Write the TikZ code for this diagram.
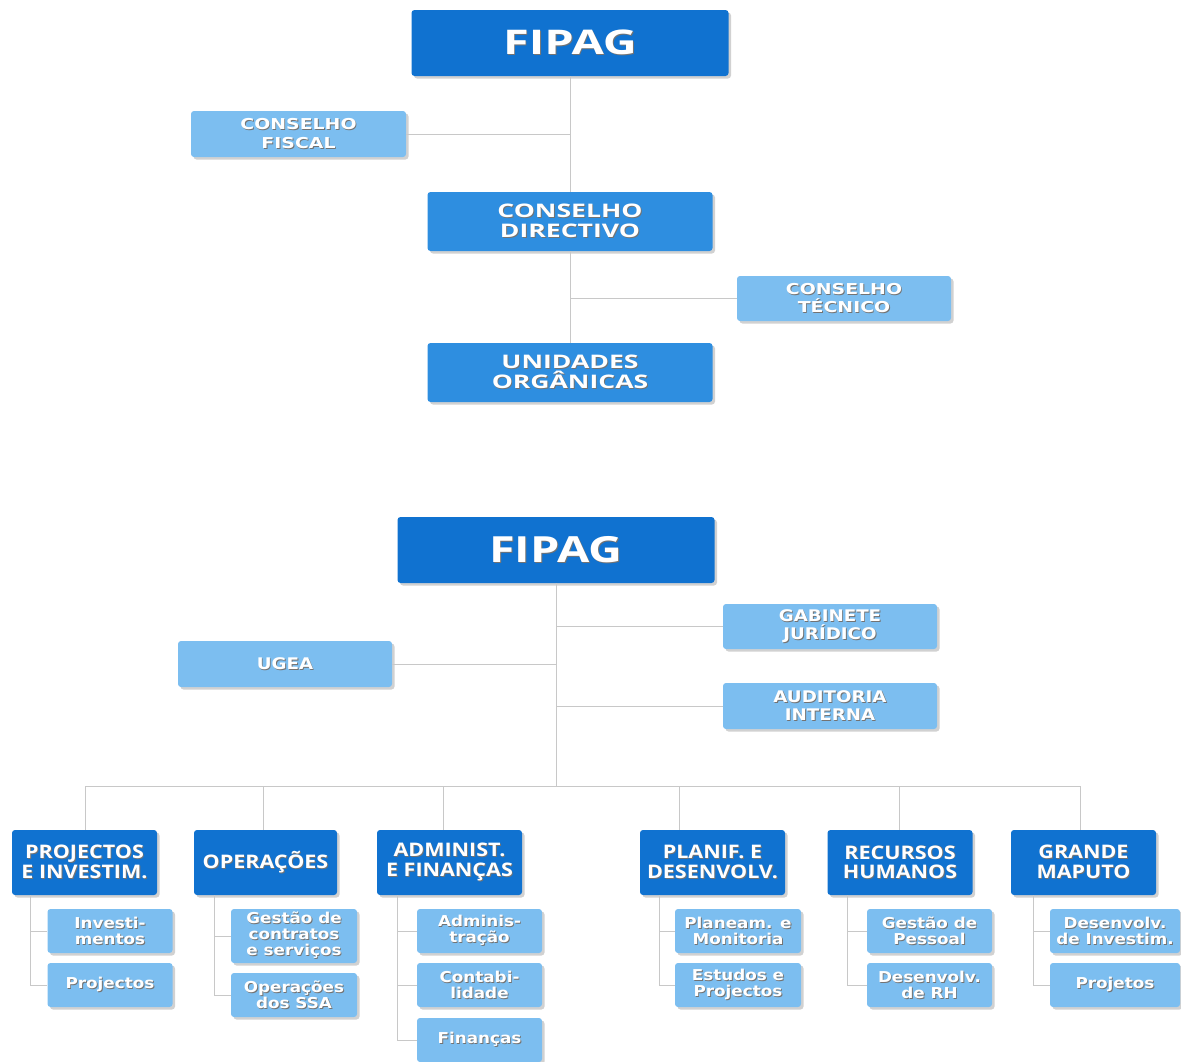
\documentclass[tikz,border=0pt]{standalone}
\usepackage{fontspec}
\usetikzlibrary{shadows}
\newfontfamily\fTopBig{Open Sans}[FakeStretch=1.38]
\newfontfamily\fTopMid{Open Sans}[FakeStretch=1.42]
\newfontfamily\fTopLight{DejaVu Sans}[FakeStretch=1.26]
\newfontfamily\fBotBig{Open Sans}[FakeStretch=1.3]
\newfontfamily\fDept{Open Sans}[FakeStretch=1.15]
\newfontfamily\fBotLight{DejaVu Sans}[FakeStretch=1.14]
\newfontfamily\fSub{DejaVu Sans}[FakeStretch=1.12]
\definecolor{cDark}{RGB}{16,114,208}
\definecolor{cMid}{RGB}{46,142,224}
\definecolor{cLight}{RGB}{124,190,240}
\definecolor{cLine}{RGB}{200,200,200}
\newcommand\sh[1]{\leavevmode\rlap{\kern0.9pt\raisebox{-0.9pt}{\color{black!55}#1}}#1}
\tikzset{
  box/.style={rounded corners=3pt, inner sep=0pt, align=center, text=white,
    drop shadow={shadow xshift=2.5pt, shadow yshift=-2.5pt, opacity=0.18, fill=black}},
  darkbox/.style={box, fill=cDark},
  midbox/.style={box, fill=cMid},
  lightbox/.style={box, fill=cLight},
  ftopbig/.style={font=\fTopBig\bfseries\fontsize{34}{36}\selectfont},
  ftopmid/.style={font=\fTopMid\bfseries\fontsize{18.7}{20}\selectfont},
  ftoplight/.style={font=\fTopLight\bfseries\fontsize{15}{18.5}\selectfont},
  fbotbig/.style={font=\fBotBig\bfseries\fontsize{36}{38}\selectfont},
  fdept/.style={font=\fDept\bfseries\fontsize{18.7}{19.5}\selectfont},
  fbotlight/.style={font=\fBotLight\bfseries\fontsize{16}{18.3}\selectfont},
  fsub/.style={font=\fSub\bfseries\fontsize{15}{16}\selectfont},
  conn/.style={draw=cLine, line width=1pt},
  deptbox/.style={darkbox, fdept, minimum width=145pt, minimum height=65pt},
  subbox/.style={lightbox, fsub, minimum width=125pt, minimum height=44pt},
}
\begin{document}
\begin{tikzpicture}[x=1pt,y=-1pt]
\useasboundingbox (0,0) rectangle (1181,1061);
% ---------------- top chart ----------------
\node[darkbox, ftopbig, minimum width=317pt, minimum height=66pt] (f1) at (570,43) {\sh{FIPAG}};
\node[lightbox, ftoplight, minimum width=215pt, minimum height=46pt] (cf) at (298.5,134) {\sh{CONSELHO}\\\sh{FISCAL}};
\node[midbox, ftopmid, minimum width=285pt, minimum height=59pt] (cd) at (570,221.5) {\sh{CONSELHO}\\\sh{DIRECTIVO}};
\node[lightbox, ftoplight, minimum width=214pt, minimum height=45pt] (ct) at (844,298.5) {\sh{CONSELHO}\\\sh{TÉCNICO}};
\node[midbox, ftopmid, minimum width=285pt, minimum height=59pt] (uo) at (570,372.5) {\sh{UNIDADES}\\\sh{ORGÂNICAS}};
\draw[conn] (f1.south) -- (cd.north);
\draw[conn] (cd.south) -- (uo.north);
\draw[conn] (cf.east) -- (cf.east -| f1.south);
\draw[conn] (ct.west) -- (ct.west -| cd.south);
% ---------------- bottom chart ----------------
\node[darkbox, fbotbig, minimum width=317pt, minimum height=66pt] (f2) at (556,550) {\sh{FIPAG}};
\node[lightbox, fbotlight, minimum width=214pt, minimum height=45pt] (gj) at (830,626.5) {\sh{GABINETE}\\\sh{JURÍDICO}};
\node[lightbox, fbotlight, minimum width=214pt, minimum height=46pt] (ug) at (285,664) {\sh{UGEA}};
\node[lightbox, fbotlight, minimum width=214pt, minimum height=46pt] (ai) at (830,706) {\sh{AUDITORIA}\\\sh{INTERNA}};
\coordinate (bus) at (556,786);
\coordinate (busL) at (85,786);
\coordinate (busR) at (1080,786);
\draw[conn] (f2.south) -- (bus);
\draw[conn] (gj.west) -- (gj.west -| f2.south);
\draw[conn] (ug.east) -- (ug.east -| f2.south);
\draw[conn] (ai.west) -- (ai.west -| f2.south);
\draw[conn] (busL) -- (busR);
% departments
\node[deptbox] (d1) at (84.5,862.5) {\sh{PROJECTOS}\\\sh{E INVESTIM.}};
\node[deptbox, minimum width=143pt] (d2) at (265.5,862.5) {\sh{OPERAÇÕES}};
\node[deptbox] (d3) at (449.5,862.5) {\sh{ADMINIST.}\\\sh{E FINANÇAS}};
\node[deptbox] (d4) at (712.5,862.5) {\sh{PLANIF. E}\\\sh{DESENVOLV.}};
\node[deptbox] (d5) at (900,862.5) {\sh{RECURSOS}\\\sh{HUMANOS}};
\node[deptbox] (d6) at (1083.5,862.5) {\sh{GRANDE}\\\sh{MAPUTO}};
\coordinate (t1) at (85,786);
\coordinate (t2) at (263,786);
\coordinate (t3) at (443.5,786);
\coordinate (t4) at (679.5,786);
\coordinate (t5) at (899,786);
\coordinate (t6) at (1080,786);
\foreach \i in {1,...,6}{\draw[conn] (t\i) -- (t\i |- d\i.north);}
% sub units
\node[subbox] (s11) at (110,931) {\sh{Investi-}\\\sh{mentos}};
\node[subbox] (s12) at (110,985) {\sh{Projectos}};
\node[subbox, minimum width=126pt, minimum height=54pt] (s21) at (294,936) {\sh{Gestão de}\\\sh{contratos}\\\sh{e serviços}};
\node[subbox, minimum width=126pt] (s22) at (294,995) {\sh{Operações}\\\sh{dos SSA}};
\node[subbox] (s31) at (479.5,931) {\sh{Adminis-}\\\sh{tração}};
\node[subbox] (s32) at (479.5,985) {\sh{Contabi-}\\\sh{lidade}};
\node[subbox] (s33) at (479.5,1040) {\sh{Finanças}};
\node[subbox, minimum width=126pt] (s41) at (738,931) {\sh{Planeam. e}\\\sh{Monitoria}};
\node[subbox, minimum width=126pt] (s42) at (738,985) {\sh{Estudos e}\\\sh{Projectos}};
\node[subbox] (s51) at (929.5,931) {\sh{Gestão de}\\\sh{Pessoal}};
\node[subbox] (s52) at (929.5,985) {\sh{Desenvolv.}\\\sh{de RH}};
\node[subbox, minimum width=130pt] (s61) at (1115,931) {\sh{Desenvolv.}\\\sh{de Investim.}};
\node[subbox, minimum width=130pt] (s62) at (1115,985) {\sh{Projetos}};
\coordinate (v1) at (30,0);
\coordinate (v2) at (214,0);
\coordinate (v3) at (397.5,0);
\coordinate (v4) at (659,0);
\coordinate (v5) at (847,0);
\coordinate (v6) at (1033,0);
\foreach \i in {1,...,6}{
  \draw[conn] (v\i |- d\i.south) |- (s\i1.west);
  \draw[conn] (v\i |- d\i.south) |- (s\i2.west);
}
\draw[conn] (v3 |- d3.south) |- (s33.west);
\end{tikzpicture}
\end{document}
